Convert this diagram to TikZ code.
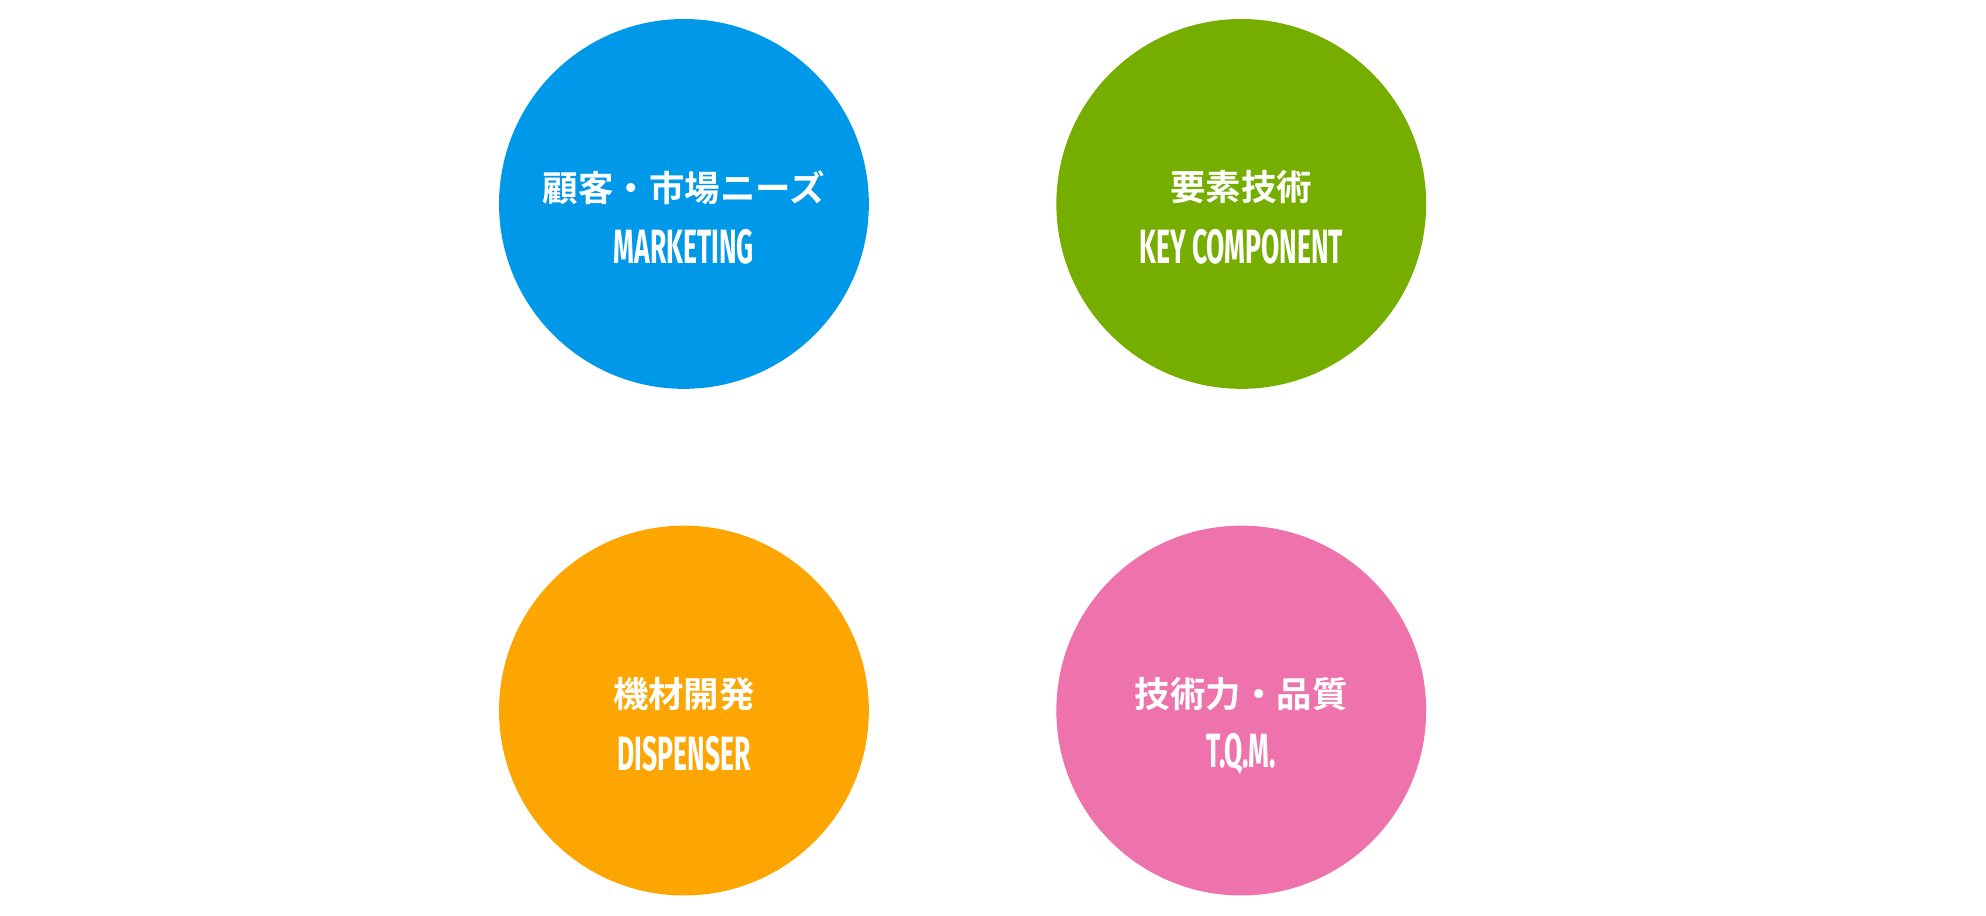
\documentclass[tikz,border=0pt]{standalone}
\usepackage{fontspec}
\usepackage{graphicx}
\newfontfamily\jp{Noto Sans CJK JP Bold}
\newfontfamily\en{Fira Sans}[UprightFont=* Bold]
\definecolor{cblue}{HTML}{0099E9}
\definecolor{cgreen}{HTML}{76AE00}
\definecolor{corange}{HTML}{FDA500}
\definecolor{cpink}{HTML}{EE72AB}
\begin{document}
\begin{tikzpicture}[x=0.5pt,y=-0.5pt,
  disc/.style={circle,minimum size=146pt,inner sep=0pt},
  jptext/.style={text=white,font=\jp\fontsize{14}{16}\selectfont,inner sep=0pt},
  entext/.style={text=white,font=\en\fontsize{19}{20}\selectfont,inner sep=0pt}]
\useasboundingbox (0,0) rectangle (1568,723);
\newcommand{\cond}[1]{\scalebox{0.55}[1]{#1}}
\foreach \n/\x/\y/\c/\j/\e in {a/540/161/cblue/顧客・市場ニーズ/MARKETING, b/980/161/cgreen/要素技術/KEY COMPONENT, c/540/561/corange/機材開発/DISPENSER, d/980/561/cpink/技術力・品質/T.Q.M.}{
  \node[disc,fill=\c] (\n) at (\x,\y) {};
  \node[jptext] (\n j) at (\x,148) {};
  \node[jptext] (\n jj) at ([yshift=6.5pt]\n) {\j};
  \node[entext] (\n e) at ([yshift=-17pt]\n) {\cond{\e}};
}
\end{tikzpicture}
\end{document}
